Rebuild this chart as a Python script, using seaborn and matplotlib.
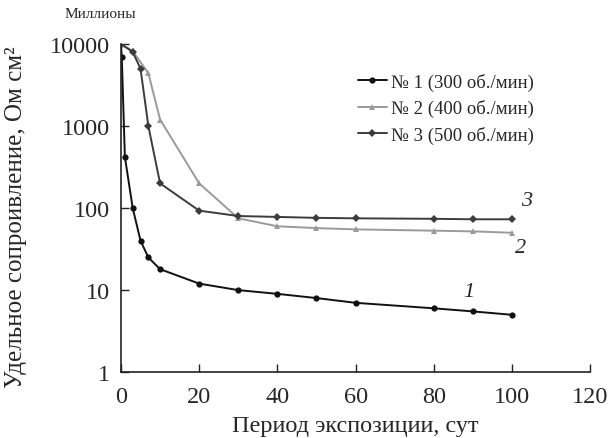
import matplotlib
matplotlib.use('Agg')
import matplotlib.pyplot as plt
import numpy as np
import pandas as pd
import seaborn as sns

# exposure period, days / resistivity, million Ohm cm2
days_1 = [0, 0.2, 1, 3, 5, 7, 10, 20, 30, 40, 50, 60, 80, 90, 100]
res_1 = [10000, 7000, 420, 100, 40, 25, 18, 12, 10, 9, 8, 7, 6, 5.5, 5]

days_2 = [0, 3, 7, 10, 20, 30, 40, 50, 60, 80, 90, 100]
res_2 = [10000, 8200, 4400, 1200, 200, 75, 60, 57, 55, 53, 52, 50]

days_3 = [0, 3, 5, 7, 10, 20, 30, 40, 50, 60, 80, 90, 100]
res_3 = [10000, 8000, 5000, 1000, 200, 93, 80, 78, 76, 75, 74, 73, 73]

series_names = ['№ 1 (300 об./мин)', '№ 2 (400 об./мин)', '№ 3 (500 об./мин)']
curve_labels = ['1', '2', '3']
label_pos = [(89, 9.5), (102.3, 33), (103.6, 122)]

y_ticks = [1, 10, 100, 1000, 10000]
x_ticks = [0, 20, 40, 60, 80, 100, 120]

df = pd.concat([
    pd.DataFrame({'day': days_1, 'res': res_1, 'name': series_names[0]}),
    pd.DataFrame({'day': days_2, 'res': res_2, 'name': series_names[1]}),
    pd.DataFrame({'day': days_3, 'res': res_3, 'name': series_names[2]}),
])

sns.set_style('ticks')
plt.rcParams['font.family'] = ['Liberation Serif', 'DejaVu Serif']

fig = plt.figure(figsize=(6.11, 4.39), dpi=100)
ax = fig.add_axes([0.198, 0.150, 0.768, 0.7475])

palette = {series_names[0]: '#111111', series_names[1]: '#9a9a9a', series_names[2]: '#3c3c3c'}
markers = {series_names[0]: 'o', series_names[1]: '^', series_names[2]: 'D'}
sns.lineplot(data=df, x='day', y='res', hue='name', style='name', palette=palette,
             markers=markers, dashes=False, markersize=4.5, linewidth=1.4,
             markeredgewidth=0, sort=False, ax=ax)

ax.set_yscale('log')
ax.set_xlim(0, 120)
ax.set_ylim(1, 10000)
ax.set_yticks(y_ticks)
ax.set_yticklabels([str(t) for t in y_ticks])
ax.set_xticks(x_ticks)
ax.minorticks_off()
ax.tick_params(direction='in', length=6, width=1, labelsize=17.5, color='#222222')
ax.tick_params(axis='x', pad=10)
ax.tick_params(axis='y', pad=8)
sns.despine(ax=ax)
for s in ['left', 'bottom']:
    ax.spines[s].set_linewidth(1.2)
    ax.spines[s].set_color('#222222')

ax.set_xlabel('Период экспозиции, сут', fontsize=17.5, labelpad=6)
ax.set_ylabel('Удельное сопроивление, Ом см²', fontsize=18)
ax.yaxis.set_label_coords(-0.2, 0.475)

for lab, (xp, yp) in zip(curve_labels, label_pos):
    ax.text(xp, yp, lab, fontsize=16, style='italic', ha='center', va='center')

fig.text(0.164, 0.966, 'Миллионы', fontsize=11, ha='center', va='center')

leg = ax.legend(loc='upper left', bbox_to_anchor=(0.49, 0.935), frameon=False,
                fontsize=13.5, handlelength=1.5, handletextpad=0.25, labelspacing=0.45,
                borderaxespad=0)

fig.savefig('out.png', dpi=100)
